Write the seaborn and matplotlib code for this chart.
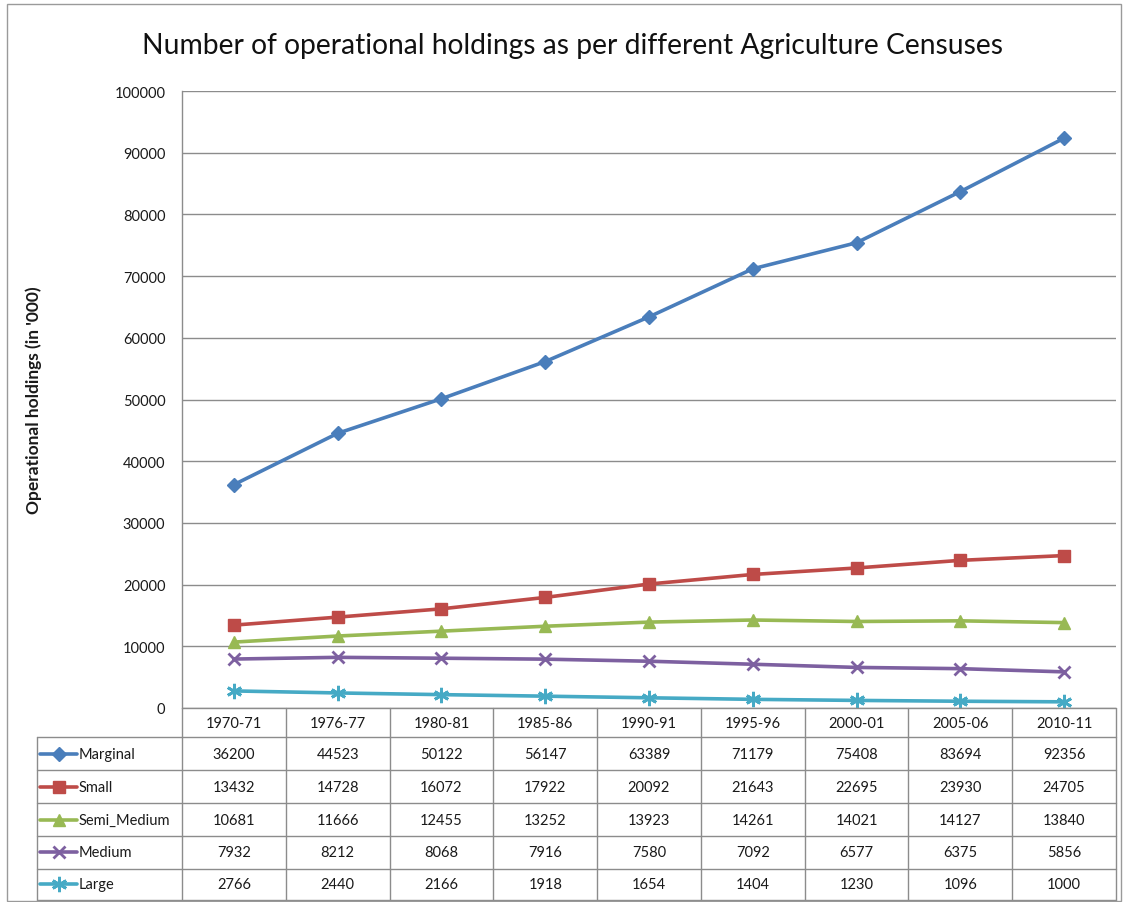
import matplotlib
matplotlib.use("Agg")
import matplotlib.pyplot as plt
import seaborn as sns
import numpy as np
from matplotlib.patches import Rectangle
from matplotlib.lines import Line2D

sns.set_style("white")
plt.rcParams["font.family"] = ["Lato", "DejaVu Sans"]

# Census years
years = ["1970-71", "1976-77", "1980-81", "1985-86", "1990-91",
         "1995-96", "2000-01", "2005-06", "2010-11"]

# Operational holdings ('000) by size class
marginal = [36200, 44523, 50122, 56147, 63389, 71179, 75408, 83694, 92356]
small = [13432, 14728, 16072, 17922, 20092, 21643, 22695, 23930, 24705]
semi_medium = [10681, 11666, 12455, 13252, 13923, 14261, 14021, 14127, 13840]
medium = [7932, 8212, 8068, 7916, 7580, 7092, 6577, 6375, 5856]
large = [2766, 2440, 2166, 1918, 1654, 1404, 1230, 1096, 1000]

series_names = ["Marginal", "Small", "Semi_Medium", "Medium", "Large"]
series_vals = [marginal, small, semi_medium, medium, large]
colors = ["#4A7EBB", "#BE4B48", "#98B954", "#7D60A0", "#46AAC5"]
markers = ["D", "s", "^", "x", (6, 2, 0)]
msizes = [7, 9, 9, 9, 11]

W, H = 1127, 903
fig = plt.figure(figsize=(W / 100, H / 100), dpi=100)

def fx(px):
    return px / W

def fy(py):
    return 1 - py / H

# outer chart border
fig.patches.append(Rectangle((fx(7), fy(902)), fx(1121) - fx(7), fy(5) - fy(902),
                             transform=fig.transFigure, fill=False,
                             edgecolor="#9a9a9a", linewidth=1.0))

# plot area
L, R, T, B = 182, 1116, 92, 709
ax = fig.add_axes([fx(L), fy(B), fx(R) - fx(L), fy(T) - fy(B)])
xs = np.arange(len(years))
for name, vals, c, m, ms in zip(series_names, series_vals, colors, markers, msizes):
    sns.lineplot(x=xs, y=vals, ax=ax, color=c, linewidth=2.6, marker=m,
                 markersize=ms, markeredgecolor=c, markerfacecolor=c,
                 markeredgewidth=2 if m in ("x", (6, 2, 0)) else 1, zorder=3)
ax.set_xlim(-0.5, len(years) - 0.5)
ax.set_ylim(0, 100000)
ax.set_yticks(np.arange(0, 100001, 10000))
ax.set_yticklabels([str(v) for v in range(0, 100001, 10000)], fontsize=10.5, color="#1a1a1a")
ax.set_xticks([])
ax.yaxis.grid(True, color="#8c8c8c", linewidth=1.0)
ax.set_axisbelow(True)
for s in ["top", "right", "bottom"]:
    ax.spines[s].set_visible(False)
ax.spines["left"].set_color("#8c8c8c")
ax.spines["left"].set_linewidth(1.0)
ax.tick_params(axis="y", length=0, pad=12)
ax.set_ylabel("Operational holdings (in '000)", fontsize=12.5, fontweight="bold",
              labelpad=0, color="#1a1a1a")
ax.yaxis.set_label_coords(fx(42 - L) / (fx(R) - fx(L)), 0.5)

fig.text(fx(572), fy(46), "Number of operational holdings as per different Agriculture Censuses",
         ha="center", va="center", fontsize=20.3, color="#111111")

# data table below the plot
TL, TB = 37, 901
unit = (R - L) / len(years)
leg_w = (L - TL) / unit
tax = fig.add_axes([fx(TL), fy(TB), fx(R) - fx(TL), fy(B) - fy(TB)])
tax.set_xlim(-0.5 - leg_w, len(years) - 0.5)
row_edges = [0, 0.88, 1.88, 2.88, 3.88, 4.88, 5.82]
tax.set_ylim(row_edges[-1], 0)
tax.axis("off")
gc = "#8c8c8c"
tfs = 10.5
# horizontal lines
tax.plot([-0.5, len(years) - 0.5], [0, 0], color=gc, lw=1.0, clip_on=False)
for yv in row_edges[1:]:
    tax.plot([-0.5 - leg_w, len(years) - 0.5], [yv, yv], color=gc, lw=1.0, clip_on=False)
# vertical lines
for i in range(len(years) + 1):
    tax.plot([i - 0.5, i - 0.5], [0, row_edges[-1]], color=gc, lw=1.0, clip_on=False)
tax.plot([-0.5 - leg_w] * 2, [row_edges[1], row_edges[-1]], color=gc, lw=1.0, clip_on=False)

for i, yr in enumerate(years):
    tax.text(i, row_edges[0] / 2 + row_edges[1] / 2, yr, ha="center", va="center",
             fontsize=tfs, color="#1a1a1a")

for r, (name, vals, c, m, ms) in enumerate(zip(series_names, series_vals, colors, markers, msizes)):
    yc = (row_edges[r + 1] + row_edges[r + 2]) / 2
    x0 = -0.5 - leg_w + 0.03
    x1 = x0 + 0.36
    tax.add_line(Line2D([x0, x1], [yc, yc], color=c, lw=2.6, clip_on=False))
    tax.add_line(Line2D([(x0 + x1) / 2], [yc], color=c, marker=m, markersize=ms,
                        markeredgecolor=c, markerfacecolor=c,
                        markeredgewidth=2 if m in ("x", (6, 2, 0)) else 1, clip_on=False))
    tax.text(x1 + 0.01, yc, name, ha="left", va="center", fontsize=tfs, color="#1a1a1a")
    for i, v in enumerate(vals):
        tax.text(i, yc, str(v), ha="center", va="center", fontsize=tfs, color="#1a1a1a")

fig.savefig("out.png", dpi=100)
